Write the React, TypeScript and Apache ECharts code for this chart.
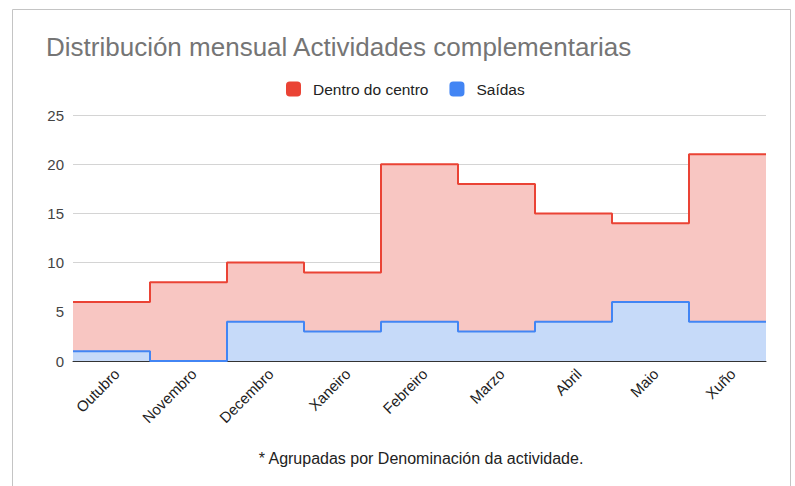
import React, { useEffect, useRef } from "react";
import * as echarts from "echarts";

const categories = ["Outubro", "Novembro", "Decembro", "Xaneiro", "Febreiro", "Marzo", "Abril", "Maio", "Xuño"];
const dentroDoCentro = [6, 8, 10, 9, 20, 18, 15, 14, 21];
const saidas = [1, 0, 4, 3, 4, 3, 4, 6, 4];
const yMin = 0;
const yMax = 25;
const yInterval = 5;

const titleText = "Distribución mensual Actividades complementarias";
const footnoteText = "* Agrupadas por Denominación da actividade.";

// each value occupies one category band: [i, v] ... [i+1, v]
const toSteps = (vals: number[]) => [
  ...vals.map((v, i) => [i, v]),
  [vals.length, vals[vals.length - 1]],
];

export default function App() {
  const ref = useRef<HTMLDivElement>(null);
  useEffect(() => {
    document.body.style.margin = "0";
    const chart = echarts.init(ref.current!, null, { renderer: "svg" });
    const font = "Arial, 'Liberation Sans', sans-serif";
    chart.setOption({
      animation: false,
      backgroundColor: "#ffffff",
      textStyle: { fontFamily: font },
      title: {
        text: titleText,
        left: 41,
        top: 29,
        textStyle: { color: "#757575", fontSize: 26, fontWeight: "normal", fontFamily: font },
      },
      legend: {
        top: 76,
        left: 281,
        itemWidth: 15,
        itemHeight: 15,
        itemGap: 21,
        icon: "roundRect",
        data: ["Dentro do centro", "Saídas"],
        textStyle: { color: "#222", fontSize: 15.5, fontFamily: font, padding: [0, 0, 0, 7] },
      },
      grid: { left: 73, right: 29, top: 115, bottom: 125 },
      xAxis: [
        {
          type: "category",
          data: categories,
          boundaryGap: true,
          z: 3,
          axisLine: { show: true, lineStyle: { color: "#333", width: 1 } },
          axisTick: { show: false },
          splitLine: { show: false },
          axisLabel: {
            rotate: 45,
            interval: 0,
            color: "#222",
            fontSize: 15,
            margin: 5,
            verticalAlign: "top",
            fontFamily: font,
          },
        },
        { type: "value", min: 0, max: categories.length, show: false },
      ],
      yAxis: {
        type: "value",
        min: yMin,
        max: yMax,
        interval: yInterval,
        z: 3,
        axisLine: { show: false },
        axisTick: { show: false },
        axisLabel: { color: "#444", fontSize: 15, margin: 9, fontFamily: font },
        splitLine: { show: true, lineStyle: { color: "rgba(0,0,0,0.17)", width: 1 } },
      },
      series: [
        {
          name: "Dentro do centro",
          type: "line",
          xAxisIndex: 1,
          step: "end",
          symbol: "none",
          data: toSteps(dentroDoCentro),
          color: "#ea4335",
          lineStyle: { color: "#ea4335", width: 2 },
          areaStyle: { color: "#f8c6c2", opacity: 1 },
        },
        {
          name: "Saídas",
          type: "line",
          xAxisIndex: 1,
          step: "end",
          symbol: "none",
          data: toSteps(saidas),
          color: "#4285f4",
          lineStyle: { color: "#4285f4", width: 2 },
          areaStyle: { color: "#c6daf9", opacity: 1 },
        },
      ],
      graphic: [
        {
          type: "rect",
          shape: { x: 12.5, y: 9.5, width: 778, height: 490 },
          style: { fill: "none", stroke: "#c4c4c4", lineWidth: 1 },
          silent: true,
        },
        {
          type: "text",
          x: 421,
          y: 458,
          style: {
            text: footnoteText,
            fill: "#222",
            fontSize: 16,
            fontFamily: font,
            textAlign: "center",
            textVerticalAlign: "middle",
          },
        },
      ],
    });
    return () => chart.dispose();
  }, []);
  return <div ref={ref} style={{ position: "fixed", left: 0, top: 0, width: 795, height: 486 }} />;
}
